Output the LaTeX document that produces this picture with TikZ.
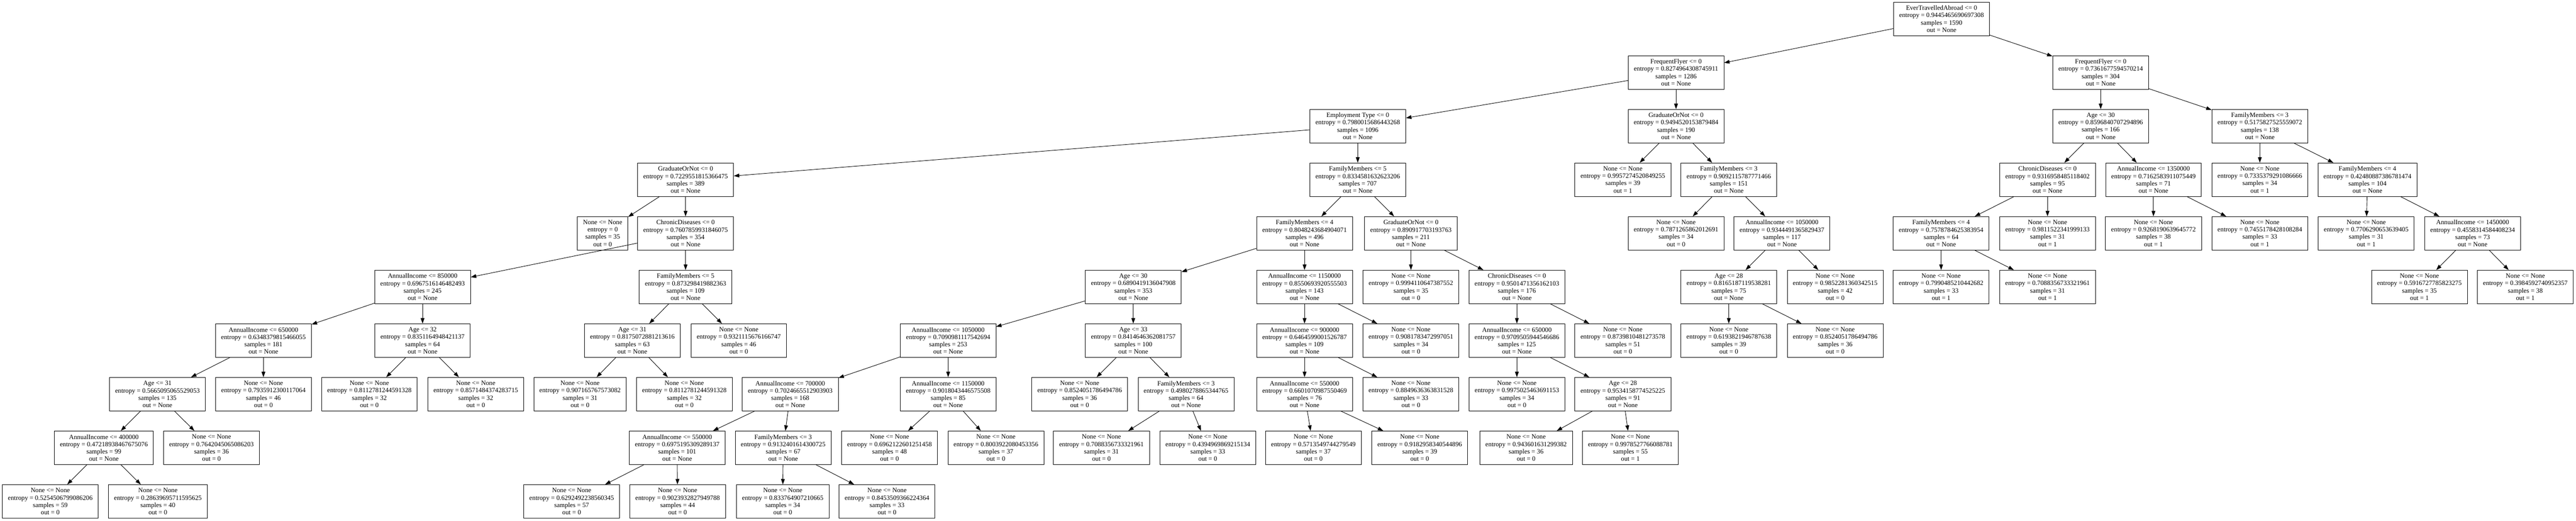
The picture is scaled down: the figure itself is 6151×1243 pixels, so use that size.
\documentclass[tikz,border=0pt]{standalone}
\usepackage{fontspec}
\setmainfont{Liberation Serif}
\usepackage{tikz}
\usetikzlibrary{positioning,arrows.meta}

\begin{document}
\begin{tikzpicture}[
      x=1pt, y=-1pt,
      treenode/.style={rectangle, draw, fill=white, align=center, inner xsep=13.5pt, inner ysep=3pt, minimum height=80pt, line width=1.1pt, font=\fontsize{15.7}{17.4}\selectfont},
      arrow/.style={-{Triangle[length=13pt, width=9pt]}, line width=1.1pt}
    ]
    \useasboundingbox (0,0) rectangle (6151,1243);

    \node[treenode] (root) at (4636,45) {EverTravelledAbroad <= 0\\entropy = 0.9445465690697308\\samples = 1590\\out = None};

    \node[treenode] (ffl) at (4002,173) {FrequentFlyer <= 0\\entropy = 0.8274964308745911\\samples = 1286\\out = None};
    \node[treenode] (ffr) at (5016,173) {FrequentFlyer <= 0\\entropy = 0.7361677594570214\\samples = 304\\out = None};

    \node[treenode] (emp) at (3242,301) {Employment Type <= 0\\entropy = 0.7980015686443268\\samples = 1096\\out = None};
    \node[treenode] (grad1) at (4002,301) {GraduateOrNot <= 0\\entropy = 0.9494520153879484\\samples = 190\\out = None};
    \node[treenode] (age1) at (5016,301) {Age <= 30\\entropy = 0.8596840707294896\\samples = 166\\out = None};
    \node[treenode] (fam1) at (5396,301) {FamilyMembers <= 3\\entropy = 0.5175827525559072\\samples = 138\\out = None};

    \node[treenode] (grad2) at (1637,429) {GraduateOrNot <= 0\\entropy = 0.7229551815366475\\samples = 389\\out = None};
    \node[treenode] (fam2) at (3242,429) {FamilyMembers <= 5\\entropy = 0.8334581632623206\\samples = 707\\out = None};
    \node[treenode] (leaf1) at (3875,429) {None <= None\\entropy = 0.9957274520849255\\samples = 39\\out = 1};
    \node[treenode] (fam3) at (4128,429) {FamilyMembers <= 3\\entropy = 0.9092115787771466\\samples = 151\\out = None};
    \node[treenode] (chr1) at (4889,429) {ChronicDiseases <= 0\\entropy = 0.9316958485118402\\samples = 95\\out = None};
    \node[treenode] (inc1) at (5142,429) {AnnualIncome <= 1350000\\entropy = 0.7162583911075449\\samples = 71\\out = None};
    \node[treenode] (leaf2) at (5396,429) {None <= None\\entropy = 0.7335379291086666\\samples = 34\\out = 1};
    \node[treenode] (fam4) at (5653,429) {FamilyMembers <= 4\\entropy = 0.42480887386781474\\samples = 104\\out = None};

    \node[treenode] (leaf3) at (1439,557) {None <= None\\entropy = 0\\samples = 35\\out = 0};
    \node[treenode] (chr2) at (1637,557) {ChronicDiseases <= 0\\entropy = 0.7607859931846075\\samples = 354\\out = None};
    \node[treenode] (fam5) at (3115,557) {FamilyMembers <= 4\\entropy = 0.8048243684904071\\samples = 496\\out = None};
    \node[treenode] (grad3) at (3369,557) {GraduateOrNot <= 0\\entropy = 0.890917703193763\\samples = 211\\out = None};
    \node[treenode] (leaf4) at (4002,557) {None <= None\\entropy = 0.7871265862012691\\samples = 34\\out = 0};
    \node[treenode] (inc2) at (4255,557) {AnnualIncome <= 1050000\\entropy = 0.9344491365829437\\samples = 117\\out = None};
    \node[treenode] (fam6) at (4635,557) {FamilyMembers <= 4\\entropy = 0.7578784625383954\\samples = 64\\out = None};
    \node[treenode] (leaf5) at (4889,557) {None <= None\\entropy = 0.9811522341999133\\samples = 31\\out = 1};
    \node[treenode] (leaf6) at (5142,557) {None <= None\\entropy = 0.9268190639645772\\samples = 38\\out = 1};
    \node[treenode] (leaf7) at (5396,557) {None <= None\\entropy = 0.7455178428108284\\samples = 33\\out = 1};
    \node[treenode] (leaf8) at (5650,557) {None <= None\\entropy = 0.7706290653639405\\samples = 31\\out = 1};
    \node[treenode] (inc3) at (5904,557) {AnnualIncome <= 1450000\\entropy = 0.4558314584408234\\samples = 73\\out = None};

    \node[treenode] (inc4) at (1009,685) {AnnualIncome <= 850000\\entropy = 0.6967516146482493\\samples = 245\\out = None};
    \node[treenode] (fam7) at (1637,685) {FamilyMembers <= 5\\entropy = 0.873298419882363\\samples = 109\\out = None};
    \node[treenode] (age2) at (2706,685) {Age <= 30\\entropy = 0.6890419136047908\\samples = 353\\out = None};
    \node[treenode] (inc5) at (3115,685) {AnnualIncome <= 1150000\\entropy = 0.8550693920555503\\samples = 143\\out = None};
    \node[treenode] (leaf9) at (3369,685) {None <= None\\entropy = 0.9994110647387552\\samples = 35\\out = 0};
    \node[treenode] (chr3) at (3622,685) {ChronicDiseases <= 0\\entropy = 0.9501471356162103\\samples = 176\\out = None};
    \node[treenode] (age3) at (4128,685) {Age <= 28\\entropy = 0.8165187119538281\\samples = 75\\out = None};
    \node[treenode] (leaf10) at (4382,685) {None <= None\\entropy = 0.9852281360342515\\samples = 42\\out = 0};
    \node[treenode] (leaf11) at (4635,685) {None <= None\\entropy = 0.7990485210442682\\samples = 33\\out = 1};
    \node[treenode] (leaf12) at (4889,685) {None <= None\\entropy = 0.7088356733321961\\samples = 31\\out = 1};
    \node[treenode] (leaf13) at (5777,685) {None <= None\\entropy = 0.5916727785823275\\samples = 35\\out = 1};
    \node[treenode] (leaf14) at (6030,685) {None <= None\\entropy = 0.3984592740952357\\samples = 38\\out = 1};

    \node[treenode] (inc6) at (629,813) {AnnualIncome <= 650000\\entropy = 0.6348379815466055\\samples = 181\\out = None};
    \node[treenode] (age4) at (1009,813) {Age <= 32\\entropy = 0.8351164948421137\\samples = 64\\out = None};
    \node[treenode] (age5) at (1510,813) {Age <= 31\\entropy = 0.8175072881213616\\samples = 63\\out = None};
    \node[treenode] (leaf15) at (1764,813) {None <= None\\entropy = 0.9321115676166747\\samples = 46\\out = 0};
    \node[treenode] (inc7) at (2264,813) {AnnualIncome <= 1050000\\entropy = 0.7090981117542694\\samples = 253\\out = None};
    \node[treenode] (age6) at (2706,813) {Age <= 33\\entropy = 0.8414646362081757\\samples = 100\\out = None};
    \node[treenode] (inc8) at (3115,813) {AnnualIncome <= 900000\\entropy = 0.6464599001526787\\samples = 109\\out = None};
    \node[treenode] (leaf16) at (3369,813) {None <= None\\entropy = 0.9081783472997051\\samples = 34\\out = 0};
    \node[treenode] (inc9) at (3622,813) {AnnualIncome <= 650000\\entropy = 0.9709505944546686\\samples = 125\\out = None};
    \node[treenode] (leaf17) at (3875,813) {None <= None\\entropy = 0.8739810481273578\\samples = 51\\out = 0};
    \node[treenode] (leaf18) at (4128,813) {None <= None\\entropy = 0.6193821946787638\\samples = 39\\out = 0};
    \node[treenode] (leaf19) at (4382,813) {None <= None\\entropy = 0.8524051786494786\\samples = 36\\out = 0};

    \node[treenode] (age7) at (376,941) {Age <= 31\\entropy = 0.5665095065529053\\samples = 135\\out = None};
    \node[treenode] (leaf20) at (629,941) {None <= None\\entropy = 0.7935912300117064\\samples = 46\\out = 0};
    \node[treenode] (leaf21) at (882,941) {None <= None\\entropy = 0.8112781244591328\\samples = 32\\out = 0};
    \node[treenode] (leaf22) at (1136,941) {None <= None\\entropy = 0.8571484374283715\\samples = 32\\out = 0};
    \node[treenode] (leaf23) at (1385,941) {None <= None\\entropy = 0.907165767573082\\samples = 31\\out = 0};
    \node[treenode] (leaf24) at (1634,941) {None <= None\\entropy = 0.8112781244591328\\samples = 32\\out = 0};
    \node[treenode] (inc10) at (1887,941) {AnnualIncome <= 700000\\entropy = 0.7024665512903903\\samples = 168\\out = None};
    \node[treenode] (inc11) at (2264,941) {AnnualIncome <= 1150000\\entropy = 0.9018043446575508\\samples = 85\\out = None};
    \node[treenode] (leaf25) at (2578,941) {None <= None\\entropy = 0.8524051786494786\\samples = 36\\out = 0};
    \node[treenode] (fam8) at (2832,941) {FamilyMembers <= 3\\entropy = 0.4980278865344765\\samples = 64\\out = None};
    \node[treenode] (inc12) at (3115,941) {AnnualIncome <= 550000\\entropy = 0.6601070987550469\\samples = 76\\out = None};
    \node[treenode] (leaf26) at (3369,941) {None <= None\\entropy = 0.8849636363831528\\samples = 33\\out = 0};
    \node[treenode] (leaf27) at (3622,941) {None <= None\\entropy = 0.9975025463691153\\samples = 34\\out = 0};
    \node[treenode] (age8) at (3875,941) {Age <= 28\\entropy = 0.9534158774525225\\samples = 91\\out = None};

    \node[treenode] (inc13) at (248,1069) {AnnualIncome <= 400000\\entropy = 0.47218938467675076\\samples = 99\\out = None};
    \node[treenode] (leaf28) at (505,1069) {None <= None\\entropy = 0.7642045065086203\\samples = 36\\out = 0};
    \node[treenode] (inc14) at (1617,1069) {AnnualIncome <= 550000\\entropy = 0.6975195309289137\\samples = 101\\out = None};
    \node[treenode] (fam9) at (1870,1069) {FamilyMembers <= 3\\entropy = 0.9132401614300725\\samples = 67\\out = None};
    \node[treenode] (leaf29) at (2124,1069) {None <= None\\entropy = 0.6962122601251458\\samples = 48\\out = 0};
    \node[treenode] (leaf30) at (2378,1069) {None <= None\\entropy = 0.8003922080453356\\samples = 37\\out = 0};
    \node[treenode] (leaf31) at (2630,1069) {None <= None\\entropy = 0.7088356733321961\\samples = 31\\out = 0};
    \node[treenode] (leaf32) at (2884,1069) {None <= None\\entropy = 0.4394969869215134\\samples = 33\\out = 0};
    \node[treenode] (leaf33) at (3136,1069) {None <= None\\entropy = 0.5713549744279549\\samples = 37\\out = 0};
    \node[treenode] (leaf34) at (3390,1069) {None <= None\\entropy = 0.9182958340544896\\samples = 39\\out = 0};
    \node[treenode] (leaf35) at (3644,1069) {None <= None\\entropy = 0.943601631299382\\samples = 36\\out = 0};
    \node[treenode] (leaf36) at (3893,1069) {None <= None\\entropy = 0.9978527766088781\\samples = 55\\out = 1};

    \node[treenode] (leaf37) at (120,1197) {None <= None\\entropy = 0.5254506799086206\\samples = 59\\out = 0};
    \node[treenode] (leaf38) at (377,1197) {None <= None\\entropy = 0.28639695711595625\\samples = 40\\out = 0};
    \node[treenode] (leaf39) at (1365,1197) {None <= None\\entropy = 0.6292492238560345\\samples = 57\\out = 0};
    \node[treenode] (leaf40) at (1618,1197) {None <= None\\entropy = 0.9023932827949788\\samples = 44\\out = 0};
    \node[treenode] (leaf41) at (1869,1197) {None <= None\\entropy = 0.833764907210665\\samples = 34\\out = 0};
    \node[treenode] (leaf42) at (2118,1197) {None <= None\\entropy = 0.8453509366224364\\samples = 33\\out = 0};

    \draw[arrow] (root) -- (ffl);
    \draw[arrow] (root) -- (ffr);
    \draw[arrow] (ffl) -- (emp);
    \draw[arrow] (ffl) -- (grad1);
    \draw[arrow] (ffr) -- (age1);
    \draw[arrow] (ffr) -- (fam1);
    \draw[arrow] (emp) -- (grad2);
    \draw[arrow] (emp) -- (fam2);
    \draw[arrow] (grad1) -- (leaf1);
    \draw[arrow] (grad1) -- (fam3);
    \draw[arrow] (age1) -- (chr1);
    \draw[arrow] (age1) -- (inc1);
    \draw[arrow] (fam1) -- (leaf2);
    \draw[arrow] (fam1) -- (fam4);
    \draw[arrow] (grad2) -- (leaf3);
    \draw[arrow] (grad2) -- (chr2);
    \draw[arrow] (fam2) -- (fam5);
    \draw[arrow] (fam2) -- (grad3);
    \draw[arrow] (fam3) -- (leaf4);
    \draw[arrow] (fam3) -- (inc2);
    \draw[arrow] (chr1) -- (fam6);
    \draw[arrow] (chr1) -- (leaf5);
    \draw[arrow] (inc1) -- (leaf6);
    \draw[arrow] (inc1) -- (leaf7);
    \draw[arrow] (fam4) -- (leaf8);
    \draw[arrow] (fam4) -- (inc3);
    \draw[arrow] (chr2) -- (inc4);
    \draw[arrow] (chr2) -- (fam7);
    \draw[arrow] (fam5) -- (age2);
    \draw[arrow] (fam5) -- (inc5);
    \draw[arrow] (grad3) -- (leaf9);
    \draw[arrow] (grad3) -- (chr3);
    \draw[arrow] (inc2) -- (age3);
    \draw[arrow] (inc2) -- (leaf10);
    \draw[arrow] (fam6) -- (leaf11);
    \draw[arrow] (fam6) -- (leaf12);
    \draw[arrow] (inc3) -- (leaf13);
    \draw[arrow] (inc3) -- (leaf14);
    \draw[arrow] (inc4) -- (inc6);
    \draw[arrow] (inc4) -- (age4);
    \draw[arrow] (fam7) -- (age5);
    \draw[arrow] (fam7) -- (leaf15);
    \draw[arrow] (age2) -- (inc7);
    \draw[arrow] (age2) -- (age6);
    \draw[arrow] (inc5) -- (inc8);
    \draw[arrow] (inc5) -- (leaf16);
    \draw[arrow] (chr3) -- (inc9);
    \draw[arrow] (chr3) -- (leaf17);
    \draw[arrow] (age3) -- (leaf18);
    \draw[arrow] (age3) -- (leaf19);
    \draw[arrow] (inc6) -- (age7);
    \draw[arrow] (inc6) -- (leaf20);
    \draw[arrow] (age4) -- (leaf21);
    \draw[arrow] (age4) -- (leaf22);
    \draw[arrow] (age5) -- (leaf23);
    \draw[arrow] (age5) -- (leaf24);
    \draw[arrow] (inc7) -- (inc10);
    \draw[arrow] (inc7) -- (inc11);
    \draw[arrow] (age6) -- (leaf25);
    \draw[arrow] (age6) -- (fam8);
    \draw[arrow] (inc8) -- (inc12);
    \draw[arrow] (inc8) -- (leaf26);
    \draw[arrow] (inc9) -- (leaf27);
    \draw[arrow] (inc9) -- (age8);
    \draw[arrow] (age7) -- (inc13);
    \draw[arrow] (age7) -- (leaf28);
    \draw[arrow] (inc10) -- (inc14);
    \draw[arrow] (inc10) -- (fam9);
    \draw[arrow] (inc11) -- (leaf29);
    \draw[arrow] (inc11) -- (leaf30);
    \draw[arrow] (fam8) -- (leaf31);
    \draw[arrow] (fam8) -- (leaf32);
    \draw[arrow] (inc12) -- (leaf33);
    \draw[arrow] (inc12) -- (leaf34);
    \draw[arrow] (age8) -- (leaf35);
    \draw[arrow] (age8) -- (leaf36);
    \draw[arrow] (inc13) -- (leaf37);
    \draw[arrow] (inc13) -- (leaf38);
    \draw[arrow] (inc14) -- (leaf39);
    \draw[arrow] (inc14) -- (leaf40);
    \draw[arrow] (fam9) -- (leaf41);
    \draw[arrow] (fam9) -- (leaf42);
    \end{tikzpicture}
\end{document}
